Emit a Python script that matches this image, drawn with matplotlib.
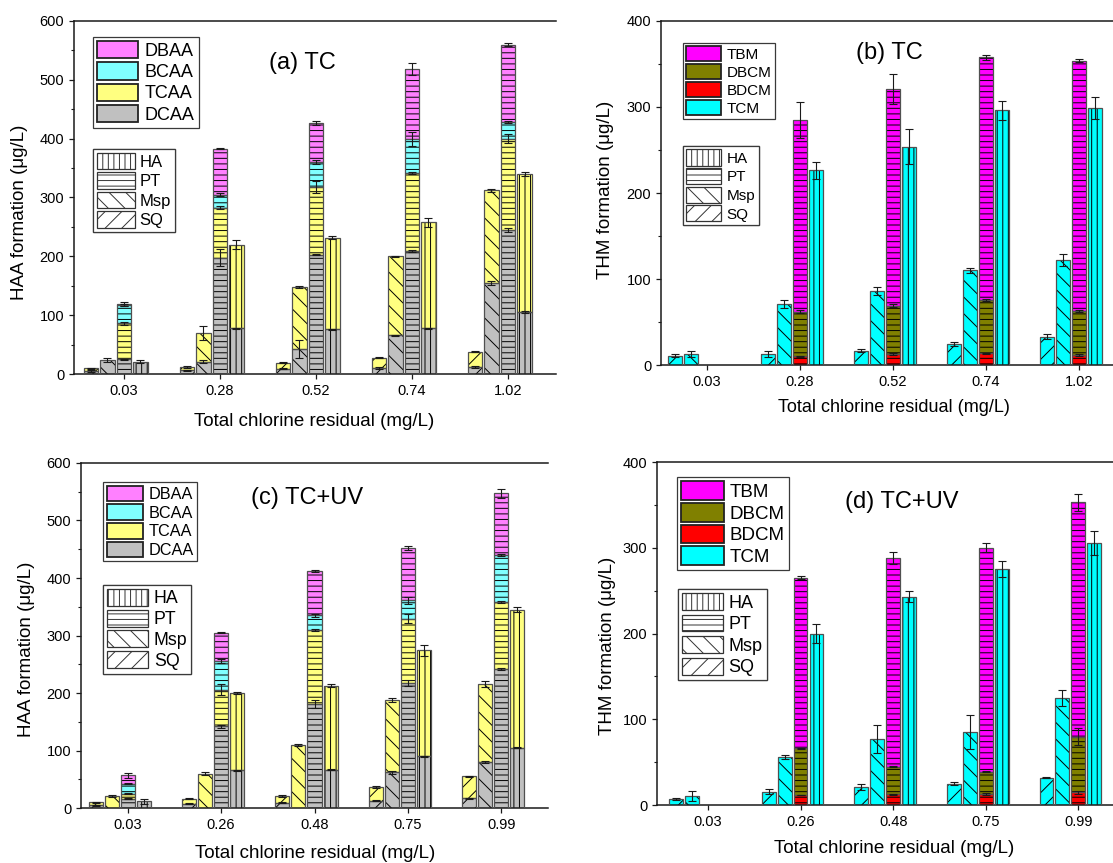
import numpy as np
import matplotlib
matplotlib.use("Agg")
import matplotlib.pyplot as plt
from matplotlib.patches import Patch
from matplotlib.ticker import MultipleLocator

plt.rcParams['font.family'] = ['Liberation Sans', 'DejaVu Sans']
plt.rcParams['hatch.linewidth'] = 0.7

W, H = 1113, 863
fig = plt.figure(figsize=(W / 100, H / 100), dpi=100)

# ---------------------------------------------------------------- data
levels_tc = ['0.03', '0.28', '0.52', '0.74', '1.02']
levels_uv = ['0.03', '0.26', '0.48', '0.75', '0.99']
sources = ['SQ', 'Msp', 'PT', 'HA']          # bar order inside a group
legend_sources = ['HA', 'PT', 'Msp', 'SQ']
source_hatch = {'SQ': '//', 'Msp': '\\\\', 'PT': '---', 'HA': '|||'}

haa_names = ['DCAA', 'TCAA', 'BCAA', 'DBAA']   # stacking order, bottom -> top
haa_colors = ['#c0c0c0', '#ffff80', '#80ffff', '#ff80ff']
thm_names = ['TCM', 'BDCM', 'DBCM', 'TBM']
thm_colors = ['#00ffff', '#ff0000', '#808000', '#ff00ff']

# rows: SQ, Msp, PT, HA ; columns: chlorine residual levels (segment heights, ug/L)
# (a) HAA, TC
a_dcaa = [[5, 6, 9, 10, 12], [24, 21, 42, 66, 155], [25, 198, 203, 209, 245], [21, 78, 76, 78, 105]]
a_tcaa = [[5, 6, 10, 18, 26], [0, 48, 106, 134, 157], [61, 85, 115, 133, 155], [0, 142, 156, 180, 235]]
a_bcaa = [[0, 0, 0, 0, 0], [0, 0, 0, 0, 0], [31, 22, 42, 58, 28], [0, 0, 0, 0, 0]]
a_dbaa = [[0, 0, 0, 0, 0], [0, 0, 0, 0, 0], [2, 78, 67, 118, 132], [0, 0, 0, 0, 0]]
a_dcaa_err = [[1, 1, 1, 2, 1], [3, 2, 15, 1, 3], [1, 15, 1, 1, 4], [3, 1, 1, 1, 2]]
a_tcaa_err = [[1, 1, 1, 1, 1], [0, 12, 1, 1, 2], [3, 2, 10, 2, 8], [0, 7, 2, 8, 4]]
a_bcaa_err = [[0, 0, 0, 0, 0], [0, 0, 0, 0, 0], [2, 2, 3, 12, 2], [0, 0, 0, 0, 0]]
a_dbaa_err = [[0, 0, 0, 0, 0], [0, 0, 0, 0, 0], [3, 1, 3, 10, 2], [0, 0, 0, 0, 0]]

# (b) THM, TC
b_tcm = [[10.8, 12.8, 16.6, 24.4, 33], [12.8, 71, 86, 110, 121.6], [0, 0, 0, 0, 0], [0, 226.5, 254, 296, 299]]
b_bdcm = [[0, 0, 0, 0, 0], [0, 0, 0, 0, 0], [0, 10, 12.4, 13.5, 11.6], [0, 0, 0, 0, 0]]
b_dbcm = [[0, 0, 0, 0, 0], [0, 0, 0, 0, 0], [0, 52, 56.6, 62, 51.4], [0, 0, 0, 0, 0]]
b_tbm = [[0, 0, 0, 0, 0], [0, 0, 0, 0, 0], [0, 223, 252, 282.5, 291], [0, 0, 0, 0, 0]]
b_tcm_err = [[2, 4, 1.5, 2, 3], [3, 5, 5, 3, 7], [0, 0, 0, 0, 0], [0, 10, 20, 11, 13]]
b_bdcm_err = [[0, 0, 0, 0, 0], [0, 0, 0, 0, 0], [0, 1, 1, 1, 1], [0, 0, 0, 0, 0]]
b_dbcm_err = [[0, 0, 0, 0, 0], [0, 0, 0, 0, 0], [0, 1.5, 1.5, 1, 1.5], [0, 0, 0, 0, 0]]
b_tbm_err = [[0, 0, 0, 0, 0], [0, 0, 0, 0, 0], [0, 21, 17, 3, 2], [0, 0, 0, 0, 0]]

# (c) HAA, TC+UV
c_dcaa = [[5, 7.5, 9, 12.8, 17], [0, 0, 0, 62, 80], [16, 142, 181, 217, 242], [11.6, 65.5, 66.7, 90, 105]]
c_tcaa = [[5, 8.5, 12, 23.7, 38], [21, 60, 109, 126, 136], [9, 64, 128, 112, 116], [0, 134.5, 146.3, 184, 240]]
c_bcaa = [[0, 0, 0, 0, 0], [0, 0, 0, 0, 0], [17, 50, 26, 32, 82], [0, 0, 0, 0, 0]]
c_dbaa = [[0, 0, 0, 0, 0], [0, 0, 0, 0, 0], [15, 49, 77, 91, 107], [0, 0, 0, 0, 0]]
c_dcaa_err = [[1, 1, 1, 1, 1], [0, 0, 0, 3, 2], [1, 3, 7, 5, 2], [4, 1, 1, 1, 1]]
c_tcaa_err = [[1, 1, 1, 1, 1], [2, 3, 2, 3, 5], [1, 10, 2, 8, 2], [0, 2, 2, 9, 4]]
c_bcaa_err = [[0, 0, 0, 0, 0], [0, 0, 0, 0, 0], [1, 4, 2, 6, 2], [0, 0, 0, 0, 0]]
c_dbaa_err = [[0, 0, 0, 0, 0], [0, 0, 0, 0, 0], [4, 1, 2, 4, 8], [0, 0, 0, 0, 0]]

# (d) THM, TC+UV
d_tcm = [[6.6, 15.5, 21, 25, 32], [10.5, 56, 77, 85, 125], [0, 0, 0, 0, 0], [0, 200, 243, 275, 305.6]]
d_bdcm = [[0, 0, 0, 0, 0], [0, 0, 0, 0, 0], [0, 11.6, 12.4, 12.8, 14.8], [0, 0, 0, 0, 0]]
d_dbcm = [[0, 0, 0, 0, 0], [0, 0, 0, 0, 0], [0, 54.4, 32.3, 26.2, 64.8], [0, 0, 0, 0, 0]]
d_tbm = [[0, 0, 0, 0, 0], [0, 0, 0, 0, 0], [0, 199, 243.3, 261, 273.4], [0, 0, 0, 0, 0]]
d_tcm_err = [[1, 3, 3, 2, 1], [6, 2, 16, 20, 9], [0, 0, 0, 0, 0], [0, 11, 6, 9, 14]]
d_bdcm_err = [[0, 0, 0, 0, 0], [0, 0, 0, 0, 0], [0, 0.5, 0.5, 1, 2], [0, 0, 0, 0, 0]]
d_dbcm_err = [[0, 0, 0, 0, 0], [0, 0, 0, 0, 0], [0, 0.5, 0.5, 1, 10], [0, 0, 0, 0, 0]]
d_tbm_err = [[0, 0, 0, 0, 0], [0, 0, 0, 0, 0], [0, 2, 7, 5, 10], [0, 0, 0, 0, 0]]


# ---------------------------------------------------------------- helpers
def px_axes(left, top, right, bottom):
    """Axes rectangle given in figure pixels (origin top-left)."""
    return fig.add_axes([left / W, 1 - bottom / H, (right - left) / W, (bottom - top) / H])


def draw_stacks(ax, layers, width=0.15, step=0.172):
    n_lvl = len(layers[0][0][0])
    for k, src in enumerate(sources):
        x = np.arange(n_lvl) + (k - 2) * step
        bottom = np.zeros(n_lvl)
        for vals, errs, color in layers:
            v = np.asarray(vals[k], float)
            e = np.asarray(errs[k], float)
            m = v > 0
            if m.any():
                ax.bar(x[m], v[m], width, bottom=bottom[m], color=color,
                       hatch=source_hatch[src], edgecolor='black', linewidth=0, zorder=2)
                ax.bar(x[m], v[m], width, bottom=bottom[m], facecolor='none',
                       edgecolor='#505050', linewidth=0.9, zorder=3)
            top = bottom + v
            me = m & (e > 0)
            if me.any():
                ax.errorbar(x[me], top[me], yerr=e[me], fmt='none', ecolor='#1a1a1a',
                            elinewidth=0.8, capsize=3, capthick=0.8, zorder=4)
            bottom = top


def style_axes(ax, labels, ymax, xlim):
    ax.set_xlim(*xlim)
    ax.set_ylim(0, ymax)
    ax.set_xticks(range(len(labels)))
    ax.set_xticklabels(labels)
    ax.yaxis.set_major_locator(MultipleLocator(100))
    ax.yaxis.set_minor_locator(MultipleLocator(50))
    ax.tick_params(axis='both', which='major', direction='out', length=3.6, width=0.9,
                   labelsize=10.5, pad=3.5, color='#1a1a1a')
    ax.tick_params(axis='y', which='minor', direction='out', length=1.9, width=0.8, color='#1a1a1a')
    ax.tick_params(axis='x', which='minor', bottom=False)
    for side in ('left', 'bottom', 'top'):
        ax.spines[side].set_linewidth(1.1)
        ax.spines[side].set_color('#1a1a1a')
    ax.spines['right'].set_visible(False)


def add_legend(ax, handles, labels, x, y, fs, hl, hh, ls, htp):
    leg = ax.legend(handles, labels, loc='upper left', bbox_to_anchor=(x / W, 1 - y / H),
                    bbox_transform=fig.transFigure, fontsize=fs, handlelength=hl,
                    handleheight=hh, labelspacing=ls, handletextpad=htp, borderpad=0.22,
                    borderaxespad=0, frameon=True, fancybox=False, framealpha=1,
                    edgecolor='#3a3a3a')
    leg.get_frame().set_linewidth(0.9)
    ax.add_artist(leg)


def color_handles(colors):
    return [Patch(facecolor=c, edgecolor='#222222', linewidth=1.3) for c in colors]


def hatch_handles():
    return [Patch(facecolor='white', edgecolor='#333333', hatch=source_hatch[s], linewidth=0.9)
            for s in legend_sources]


def fig_text(x, y, s, **kw):
    fig.text(x / W, 1 - y / H, s, ha='center', va='center', **kw)


# ---------------------------------------------------------------- (a)
ax_a = px_axes(74, 21, 556, 374)
draw_stacks(ax_a, [(a_dcaa, a_dcaa_err, haa_colors[0]), (a_tcaa, a_tcaa_err, haa_colors[1]),
                   (a_bcaa, a_bcaa_err, haa_colors[2]), (a_dbaa, a_dbaa_err, haa_colors[3])])
style_axes(ax_a, levels_tc, 600, (-0.52, 4.5))
ax_a.text(0.473, 0.881, '(a) TC', transform=ax_a.transAxes, ha='center', va='center', fontsize=17)
add_legend(ax_a, color_handles(haa_colors[::-1]), haa_names[::-1], 93, 37, 13, 2.27, 1.1, 0.14, 0.39)
add_legend(ax_a, hatch_handles(), legend_sources, 93, 149, 12, 2.28, 1.14, 0.16, 0.3)
fig_text(314, 421, 'Total chlorine residual (mg/L)', fontsize=13.5)
fig_text(20, 212, 'HAA formation (\u03bcg/L)', fontsize=13.5, rotation=90)

# ---------------------------------------------------------------- (b)
ax_b = px_axes(661, 21, 1126, 365)
draw_stacks(ax_b, [(b_tcm, b_tcm_err, thm_colors[0]), (b_bdcm, b_bdcm_err, thm_colors[1]),
                   (b_dbcm, b_dbcm_err, thm_colors[2]), (b_tbm, b_tbm_err, thm_colors[3])])
style_axes(ax_b, levels_tc, 400, (-0.495, 4.505))
ax_b.text(0.492, 0.907, '(b) TC', transform=ax_b.transAxes, ha='center', va='center', fontsize=17)
add_legend(ax_b, color_handles(thm_colors[::-1]), thm_names[::-1], 683, 43, 11, 2.29, 1.11, 0.16, 0.35)
add_legend(ax_b, hatch_handles(), legend_sources, 683, 146, 11, 2.29, 1.25, 0.16, 0.35)
fig_text(894, 407, 'Total chlorine residual (mg/L)', fontsize=13)
fig_text(605, 190, 'THM formation (\u03bcg/L)', fontsize=13.5, rotation=90)

# ---------------------------------------------------------------- (c)
ax_c = px_axes(81, 463, 548, 808)
draw_stacks(ax_c, [(c_dcaa, c_dcaa_err, haa_colors[0]), (c_tcaa, c_tcaa_err, haa_colors[1]),
                   (c_bcaa, c_bcaa_err, haa_colors[2]), (c_dbaa, c_dbaa_err, haa_colors[3])])
style_axes(ax_c, levels_uv, 600, (-0.5, 4.5))
ax_c.text(0.484, 0.899, '(c) TC+UV', transform=ax_c.transAxes, ha='center', va='center', fontsize=17)
add_legend(ax_c, color_handles(haa_colors[::-1]), haa_names[::-1], 103, 482, 11.7, 2.22, 1.11, 0.14, 0.35)
add_legend(ax_c, hatch_handles(), legend_sources, 103, 585, 12.8, 2.3, 1.08, 0.13, 0.34)
fig_text(315, 853, 'Total chlorine residual (mg/L)', fontsize=13.5)
fig_text(27, 649, 'HAA formation (\u03bcg/L)', fontsize=13.5, rotation=90)

# ---------------------------------------------------------------- (d)
ax_d = px_axes(657, 462, 1120, 805)
draw_stacks(ax_d, [(d_tcm, d_tcm_err, thm_colors[0]), (d_bdcm, d_bdcm_err, thm_colors[1]),
                   (d_dbcm, d_dbcm_err, thm_colors[2]), (d_tbm, d_tbm_err, thm_colors[3])])
style_axes(ax_d, levels_uv, 400, (-0.55, 4.45))
ax_d.text(0.529, 0.883, '(d) TC+UV', transform=ax_d.transAxes, ha='center', va='center', fontsize=17)
add_legend(ax_d, color_handles(thm_colors[::-1]), thm_names[::-1], 677, 477, 13.5, 2.3, 1.16, 0.11, 0.3)
add_legend(ax_d, hatch_handles(), legend_sources, 678, 589, 13, 2.28, 1.05, 0.17, 0.3)
fig_text(894, 848, 'Total chlorine residual (mg/L)', fontsize=13.5)
fig_text(607, 646, 'THM formation (\u03bcg/L)', fontsize=13.5, rotation=90)

fig.savefig('out.png', dpi=100)
